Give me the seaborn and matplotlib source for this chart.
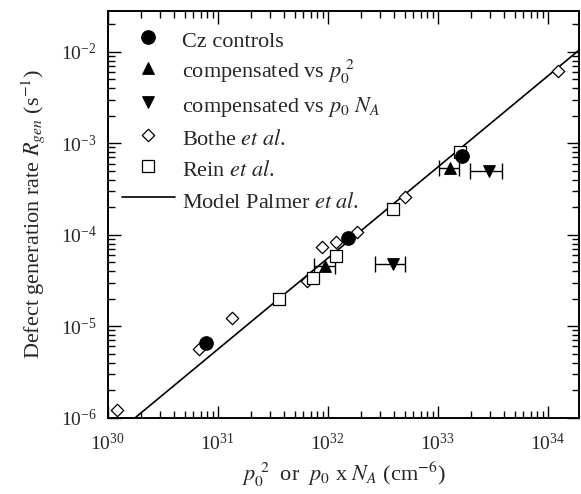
import numpy as np
import matplotlib
matplotlib.use('Agg')
import matplotlib.pyplot as plt
import seaborn as sns

sns.set_theme(style='ticks')
plt.rcParams['font.family'] = ['Liberation Serif', 'DejaVu Serif']
plt.rcParams['mathtext.fontset'] = 'stix'

# Cz controls
cz_x = [7.8e30, 1.54e32, 1.65e33]
cz_y = [6.5e-6, 9.1e-5, 7.3e-4]

# compensated vs p0^2 (with x error range)
comp2_x = [9.5e31, 1.29e33]
comp2_y = [4.5e-5, 5.3e-4]
comp2_lo = [7.5e31, 1.03e33]
comp2_hi = [1.16e32, 1.57e33]

# compensated vs p0*NA (with x error range)
compna_x = [3.95e32, 2.95e33]
compna_y = [4.8e-5, 5.0e-4]
compna_lo = [2.7e32, 1.97e33]
compna_hi = [5.0e32, 3.86e33]

# Bothe et al.
bothe_x = [1.21e30, 6.76e30, 1.34e31, 6.5e31, 8.8e31, 1.2e32, 1.84e32, 5.05e32, 1.23e34]
bothe_y = [1.21e-6, 5.6e-6, 1.22e-5, 3.1e-5, 7.3e-5, 8.4e-5, 1.06e-4, 2.56e-4, 6.2e-3]

# Rein et al.
rein_x = [3.6e31, 7.3e31, 1.2e32, 3.95e32, 1.6e33]
rein_y = [1.98e-5, 3.4e-5, 5.85e-5, 1.91e-4, 8.1e-4]

# Modelo de Palmer et al. (reta em log-log)
model_x = [1.78e30, 2.0e34]
model_y = [1.0e-6, 1.08e-2]

labels = ['Cz controls',
          r'compensated vs $p_0^{\ 2}$',
          r'compensated vs $p_0\ N_A$',
          r'Bothe $et\ al$.',
          r'Rein $et\ al$.',
          r'Model Palmer $et\ al$.']

fig = plt.figure(figsize=(5.81, 4.94), dpi=100)
ax = fig.add_axes([0.1854, 0.1545, 0.8112, 0.8232])
ax.set_xscale('log')
ax.set_yscale('log')

sns.lineplot(x=model_x, y=model_y, color='black', linewidth=1.2, label=labels[5], ax=ax, zorder=2)

# barras de erro horizontais
for xs, ys, lo, hi in [(comp2_x, comp2_y, comp2_lo, comp2_hi),
                       (compna_x, compna_y, compna_lo, compna_hi)]:
    xs = np.array(xs)
    xerr = [xs - np.array(lo), np.array(hi) - xs]
    ax.errorbar(xs, ys, xerr=xerr, fmt='none', ecolor='black', elinewidth=1.0,
                capsize=6, capthick=1.0, zorder=2)

sns.scatterplot(x=bothe_x, y=bothe_y, marker='D', s=40, facecolor='white', edgecolor='black',
                linewidth=0.9, label=labels[3], ax=ax, zorder=3)
sns.scatterplot(x=rein_x, y=rein_y, marker='s', s=72, facecolor='white', edgecolor='black',
                linewidth=0.9, label=labels[4], ax=ax, zorder=3)
sns.scatterplot(x=cz_x, y=cz_y, marker='o', s=95, facecolor='black', edgecolor='black',
                linewidth=0.8, label=labels[0], ax=ax, zorder=4)
sns.scatterplot(x=comp2_x, y=comp2_y, marker='^', s=70, facecolor='black', edgecolor='black',
                linewidth=0.8, label=labels[1], ax=ax, zorder=4)
sns.scatterplot(x=compna_x, y=compna_y, marker='v', s=70, facecolor='black', edgecolor='black',
                linewidth=0.8, label=labels[2], ax=ax, zorder=4)

ax.set_xlim(1e30, 1.93e34)
ax.set_ylim(1e-6, 2.79e-2)

ax.set_xlabel(r'$p_0^{\ 2}$  or  $p_0$ x $N_A$ (cm$^{-6}$)', fontsize=16, labelpad=4)
ax.set_ylabel(r'Defect generation rate $R_{gen}$ (s$^{-1}$)', fontsize=16, labelpad=10)

ax.tick_params(which='both', direction='in', top=True, right=True, width=1.0, color='black')
ax.tick_params(which='major', length=9, labelsize=14, pad=8)
ax.tick_params(axis='x', which='major', pad=11)
ax.tick_params(which='minor', length=5)
for sp in ax.spines.values():
    sp.set_linewidth(1.4)
    sp.set_color('black')

handles, labs = ax.get_legend_handles_labels()
order = [labs.index(l) for l in labels]
ax.legend([handles[i] for i in order], [labs[i] for i in order],
          loc='upper left', bbox_to_anchor=(0.0297, 0.963), frameon=False,
          fontsize=16, borderpad=0, borderaxespad=0, handlelength=2.4,
          handleheight=1.45, handletextpad=0.3, labelspacing=0.23, scatterpoints=1)

fig.savefig('out.png', dpi=100)
plt.close()
